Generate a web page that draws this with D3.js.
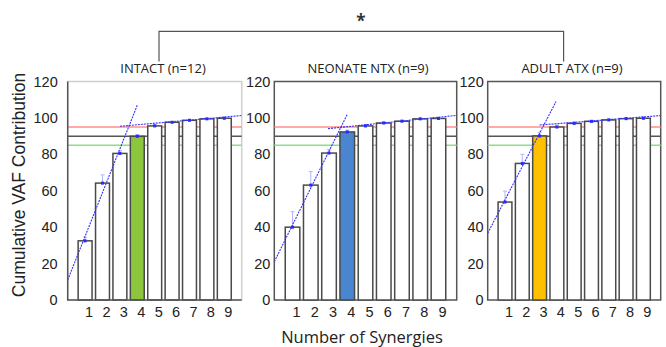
<!DOCTYPE html>
<html>
<head>
<meta charset="utf-8">
<script src="https://cdn.jsdelivr.net/npm/d3@7/dist/d3.min.js"></script>
<style>
body { margin: 0; background: #fff; }
.tick text { font: 14.5px "Liberation Sans", Arial, sans-serif; fill: #222; }
.title { font: 13px "Open Sans", sans-serif; fill: #222; }
.bar { stroke: #4a4a4a; stroke-width: 1.5px; }
.fit { stroke: #3030ff; stroke-width: 1.1px; stroke-dasharray: 2,1; fill: none; }
.err { stroke: #b4b4ff; stroke-width: 1px; }
</style>
</head>
<body>
<script>
// ---- data ----
var synergies = [1, 2, 3, 4, 5, 6, 7, 8, 9];
var yTicks = [0, 20, 40, 60, 80, 100, 120];
var titles = ["INTACT (n=12)", "NEONATE NTX (n=9)", "ADULT ATX (n=9)"];

var vafIntact  = [32.5, 64.2, 80.5, 89.9, 95.6, 97.6, 98.7, 99.5, 99.8];
var vafNeonate = [40.0, 63.1, 80.7, 92.3, 95.6, 97.2, 98.2, 99.5, 99.7];
var vafAdult   = [53.8, 75.0, 90.1, 95.0, 97.0, 98.1, 98.9, 99.6, 99.8];

var sdIntact  = [2.0, 4.5, 1.5, 1.0, 0.8, 0.5, 0.4, 0.3, 0.2];
var sdNeonate = [8.5, 7.5, 2.0, 1.0, 0.8, 0.6, 0.5, 0.3, 0.2];
var sdAdult   = [6.0, 5.0, 2.0, 1.0, 0.8, 0.6, 0.5, 0.3, 0.2];

// chosen number of synergies (highlighted bar)
var chosen = [4, 4, 3];

// linear fits drawn on each panel: [[x0, y0], [x1, y1]]
var steepFit   = [[[0, 11], [4, 107]], [[0, 21], [4, 102]], [[0, 36.7], [3.95, 109]]];
var plateauFit = [[[3, 95.4], [10, 101.3]], [[2.95, 94.1], [10, 101.4]], [[3, 96.1], [10, 101.3]]];

// threshold lines
var thresholds = [95, 90, 85];

// ---- layout ----
var width = 666, height = 347;
var plotTop = 81.5, plotBottom = 300;
var panelX = [[67.7, 241.7], [274.3, 456.7], [487.7, 660.7]];
var titleX = [163, 368, 572];
var tickPad = [10, 4, 4];
var highlight = ["#8cc63f", "#4a86d0", "#ffc000"];
var threshColor = ["#ff8c8c", "#555", "#88e088"];

var vafs = [vafIntact, vafNeonate, vafAdult];
var sds = [sdIntact, sdNeonate, sdAdult];

var svg = d3.select("body").append("svg")
    .attr("width", width)
    .attr("height", height);

var y = d3.scaleLinear().domain([0, 120]).range([plotBottom, plotTop]);

vafs.forEach(function(vals, p) {
    var x = d3.scaleLinear().domain([0, 10]).range(panelX[p]);
    var g = svg.append("g");

    var clipId = "clip" + p;
    g.append("clipPath").attr("id", clipId)
      .append("rect")
        .attr("x", panelX[p][0]).attr("y", plotTop)
        .attr("width", panelX[p][1] - panelX[p][0]).attr("height", plotBottom - plotTop);

    // frame
    g.append("rect")
        .attr("x", panelX[p][0]).attr("y", plotTop)
        .attr("width", panelX[p][1] - panelX[p][0]).attr("height", plotBottom - plotTop)
        .attr("fill", "none")
        .attr("stroke", p == 0 ? "#cfcfcf" : "#555")
        .attr("stroke-width", 1.5);

    // thresholds
    g.selectAll(".thr")
        .data(thresholds)
        .enter().append("line")
        .attr("x1", panelX[p][0]).attr("x2", panelX[p][1])
        .attr("y1", d => y(d)).attr("y2", d => y(d))
        .attr("stroke", (d, i) => threshColor[i])
        .attr("stroke-width", 1.5);

    // bars
    var bw = 0.8;
    g.selectAll(".bar")
        .data(vals)
        .enter().append("rect")
        .attr("class", "bar")
        .attr("x", (d, i) => x(synergies[i] - bw / 2))
        .attr("width", x(bw) - x(0))
        .attr("y", d => y(d))
        .attr("height", d => y(0) - y(d))
        .attr("fill", (d, i) => synergies[i] == chosen[p] ? highlight[p] : "#fff");

    // error bars
    var err = g.selectAll(".err")
        .data(vals)
        .enter().append("g");
    err.append("line")
        .attr("class", "err")
        .attr("x1", (d, i) => x(synergies[i])).attr("x2", (d, i) => x(synergies[i]))
        .attr("y1", d => y(d)).attr("y2", (d, i) => y(d + sds[p][i]));
    err.append("line")
        .attr("class", "err")
        .attr("x1", (d, i) => x(synergies[i]) - 2).attr("x2", (d, i) => x(synergies[i]) + 2)
        .attr("y1", (d, i) => y(d + sds[p][i])).attr("y2", (d, i) => y(d + sds[p][i]));

    // fits
    var line = d3.line().x(d => x(d[0])).y(d => y(d[1]));
    g.append("path").attr("class", "fit").attr("d", line(steepFit[p]))
        .attr("clip-path", "url(#" + clipId + ")");
    g.append("path").attr("class", "fit").attr("d", line(plateauFit[p]))
        .attr("clip-path", "url(#" + clipId + ")");

    // mean markers
    g.selectAll(".dot")
        .data(vals)
        .enter().append("rect")
        .attr("x", (d, i) => x(synergies[i]) - 1.5)
        .attr("y", d => y(d) - 1.5)
        .attr("width", 3).attr("height", 3)
        .attr("fill", "#2a2aff");

    // left and bottom axis lines darker on first panel
    if (p == 0) {
        g.append("path")
            .attr("d", d3.line()([[panelX[p][0], plotTop], [panelX[p][0], plotBottom], [panelX[p][1], plotBottom]]))
            .attr("fill", "none").attr("stroke", "#555").attr("stroke-width", 1.5);
    }

    // axes
    var ya = g.append("g")
        .attr("transform", "translate(" + panelX[p][0] + ",0)")
        .call(d3.axisLeft(y).tickValues(yTicks).tickSize(0).tickPadding(tickPad[p]));
    ya.select(".domain").remove();

    var xa = g.append("g")
        .attr("transform", "translate(3.5," + plotBottom + ")")
        .call(d3.axisBottom(x).tickValues(synergies).tickFormat(d3.format("d")).tickSize(0).tickPadding(7));
    xa.select(".domain").remove();

    g.append("text")
        .attr("class", "title")
        .attr("x", titleX[p]).attr("y", 68)
        .attr("dy", "0.35em")
        .attr("text-anchor", "middle")
        .text(titles[p]);
});

// significance bracket
svg.append("path")
    .attr("d", d3.line()([[159, 61.4], [159, 31.4], [563.6, 31.4], [563.6, 61.4]]))
    .attr("fill", "none").attr("stroke", "#555").attr("stroke-width", 1.2);
svg.append("text")
    .attr("x", 361).attr("y", 27)
    .attr("text-anchor", "middle")
    .style("font", "bold 17px 'Open Sans', sans-serif")
    .attr("fill", "#333")
    .text("*");

// axis titles
svg.append("text")
    .attr("transform", "translate(19,185) rotate(-90)")
    .attr("text-anchor", "middle")
    .attr("dy", "0.35em")
    .style("font", "17.5px 'Liberation Sans', Arial, sans-serif")
    .attr("fill", "#222")
    .text("Cumulative VAF Contribution");

svg.append("text")
    .attr("x", 362).attr("y", 337.5)
    .attr("text-anchor", "middle")
    .attr("dy", "0.35em")
    .style("font", "16.5px 'Open Sans', sans-serif")
    .attr("fill", "#222")
    .text("Number of Synergies");
</script>
</body>
</html>
